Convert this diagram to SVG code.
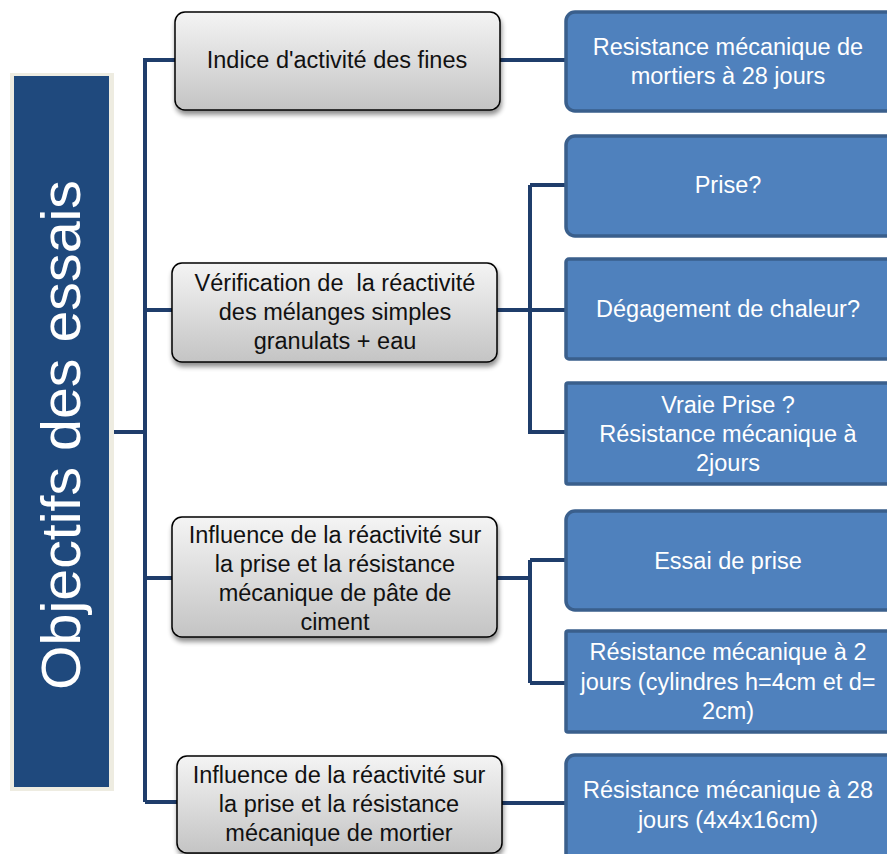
<svg xmlns="http://www.w3.org/2000/svg" width="887" height="854" viewBox="0 0 887 854">
<style>
.conn{fill:none;stroke:#1f3d6b;stroke-width:4;stroke-linejoin:miter}
.gbox{fill:url(#gg);stroke:#000;stroke-width:1.5;filter:url(#sh)}
.bbox{fill:#4f81bd;stroke:#3a5f8c;stroke-width:3.5}
.gt{font-family:"Liberation Sans",Arial,sans-serif;font-size:23.5px;fill:#111;text-anchor:middle}
.bt{font-family:"Liberation Sans",Arial,sans-serif;font-size:23.5px;fill:#fff;text-anchor:middle}
</style>
<defs>
<linearGradient id="gg" x1="0" y1="0" x2="0" y2="1">
<stop offset="0" stop-color="#f4f4f4"/>
<stop offset="1" stop-color="#c4c4c4"/>
</linearGradient>
<filter id="sh" x="-10%" y="-10%" width="120%" height="130%">
<feGaussianBlur in="SourceAlpha" stdDeviation="2.5"/>
<feOffset dx="1" dy="4" result="b"/>
<feComponentTransfer><feFuncA type="linear" slope="0.45"/></feComponentTransfer>
<feMerge><feMergeNode/><feMergeNode in="SourceGraphic"/></feMerge>
</filter>
</defs>
<rect width="887" height="854" fill="#fff"/>
<g id="connectors">
<path class="conn" d="M114 432 H145 M145 58 V802 M145 60 H176 M145 310 H173 M145 578 H173 M145 802 H178"/>
<path class="conn" d="M499 60 H566"/>
<path class="conn" d="M497 310 H530 M530 185 V434 M530 185 H566 M530 310 H566 M530 432 H566"/>
<path class="conn" d="M497 578 H530 M530 560 V683 M530 560 H566 M530 683 H566"/>
<path class="conn" d="M502 803 H566"/>
</g>
<g id="root">
<rect x="10" y="73" width="104" height="718" fill="#eeece1"/>
<rect x="14" y="76" width="95" height="711" fill="#1f497d"/>
<text transform="translate(80,435) rotate(-90)" text-anchor="middle" font-family="Liberation Sans, Arial, sans-serif" font-size="56" fill="#fff" textLength="510" lengthAdjust="spacingAndGlyphs">Objectifs des essais</text>
</g>
<g id="n1">
<rect class="gbox" x="175" y="12" width="325" height="98" rx="10"/>
<text class="gt" x="337" y="68">Indice d'activité des fines</text>
</g>
<g id="n2">
<rect class="gbox" x="172" y="263" width="325" height="99" rx="10"/>
<text class="gt" x="335" y="291" xml:space="preserve">Vérification de  la réactivité</text>
<text class="gt" x="335" y="320">des mélanges simples</text>
<text class="gt" x="335" y="349">granulats + eau</text>
</g>
<g id="n3">
<rect class="gbox" x="172" y="517" width="325" height="120" rx="10"/>
<text class="gt" x="335" y="543">Influence de la réactivité sur</text>
<text class="gt" x="335" y="572">la prise et la résistance</text>
<text class="gt" x="335" y="601">mécanique de pâte de</text>
<text class="gt" x="335" y="630">ciment</text>
</g>
<g id="n4">
<rect class="gbox" x="177" y="756" width="325" height="97" rx="10"/>
<text class="gt" x="339" y="783">Influence de la réactivité sur</text>
<text class="gt" x="339" y="812">la prise et la résistance</text>
<text class="gt" x="339" y="841">mécanique de mortier</text>
</g>
<g id="b1">
<rect class="bbox" x="566" y="12" width="340" height="99" rx="9"/>
<text class="bt" x="728" y="55">Resistance mécanique de</text>
<text class="bt" x="728" y="84">mortiers à 28 jours</text>
</g>
<g id="b2">
<rect class="bbox" x="566" y="136" width="340" height="100" rx="9"/>
<text class="bt" x="728" y="193">Prise?</text>
</g>
<g id="b3">
<rect class="bbox" x="566" y="259" width="340" height="100" rx="3"/>
<text class="bt" x="728" y="317">Dégagement de chaleur?</text>
</g>
<g id="b4">
<rect class="bbox" x="566" y="383" width="340" height="101" rx="2"/>
<text class="bt" x="728" y="413">Vraie Prise ?</text>
<text class="bt" x="728" y="442">Résistance mécanique à</text>
<text class="bt" x="728" y="471">2jours</text>
</g>
<g id="b5">
<rect class="bbox" x="566" y="511" width="340" height="99" rx="9"/>
<text class="bt" x="728" y="569">Essai de prise</text>
</g>
<g id="b6">
<rect class="bbox" x="566" y="631" width="340" height="101" rx="2"/>
<text class="bt" x="728" y="660">Résistance mécanique à 2</text>
<text class="bt" x="728" y="690">jours (cylindres h=4cm et d=</text>
<text class="bt" x="728" y="719">2cm)</text>
</g>
<g id="b7">
<rect class="bbox" x="566" y="755" width="340" height="110" rx="9"/>
<text class="bt" x="728" y="798">Résistance mécanique à 28</text>
<text class="bt" x="728" y="828">jours (4x4x16cm)</text>
</g>
</svg>
